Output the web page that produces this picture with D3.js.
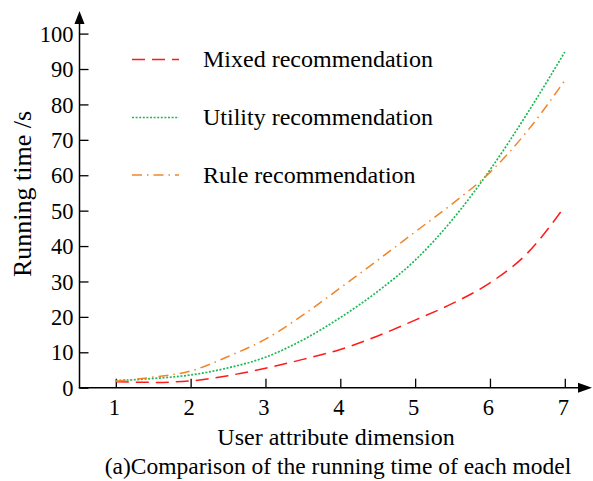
<!DOCTYPE html>
<html><head><meta charset="utf-8">
<script src="https://cdn.jsdelivr.net/npm/d3@7"></script>
<style>body{margin:0;background:#fff}svg{display:block}text{font-family:"Liberation Serif","Times New Roman",serif;fill:#000}</style>
</head><body>
<script>
const xValues = [1,1.5,2,2.5,3,3.5,4,4.5,5,5.5,6,6.5,7];
const mixed   = [1.7,1.5,1.9,3.4,5.5,8.0,10.8,14.6,19.1,23.8,29.6,38.0,51.2];
const utility = [2.0,2.6,3.6,5.6,8.6,13.5,19.8,27.2,36.0,47.5,61.5,77.5,94.8];
const rule    = [1.8,3.0,4.7,8.8,13.7,20.5,28.2,36.0,44.0,52.0,60.8,72.5,86.8];
const xTicks = [1,2,3,4,5,6,7];
const yTicks = [0,10,20,30,40,50,60,70,80,90,100];
const seriesNames = ["Mixed recommendation","Utility recommendation","Rule recommendation"];

const W=593,H=481;
const svg=d3.select("body").append("svg").attr("width",W).attr("height",H);
const x=d3.scaleLinear().domain([1,7]).range([115.8,564.8]);
const y=d3.scaleLinear().domain([0,100]).range([387.7,33.6]);
const axisX0=79.5;

// y axis
const ya=svg.append("g").attr("transform",`translate(${axisX0},0)`)
  .call(d3.axisRight(y).tickValues(yTicks).tickSize(9).tickFormat(d=>d));
ya.select(".domain").remove();
ya.selectAll("line").attr("stroke","#000").attr("stroke-width",1.3);
ya.selectAll("text").attr("x",-6).attr("text-anchor","end").attr("font-size",22.5)
  .attr("font-family","Liberation Serif").attr("dy","0.34em");
svg.append("line").attr("x1",axisX0).attr("x2",axisX0).attr("y1",y(0)+0.5).attr("y2",22).attr("stroke","#000").attr("stroke-width",1.5);
svg.append("path").attr("d",`M${axisX0},11 L${axisX0-5},24 L${axisX0+5},24 Z`).attr("fill","#000");

// x axis
const xa=svg.append("g").attr("transform",`translate(0,${y(0)})`)
  .call(d3.axisTop(x).tickValues(xTicks).tickSize(9).tickFormat(d=>d));
xa.select(".domain").remove();
xa.selectAll("line").attr("stroke","#000").attr("stroke-width",1.3);
xa.selectAll("text").attr("y",27).attr("dy","0").attr("font-size",22.5)
  .attr("font-family","Liberation Serif").attr("text-anchor","middle")
  .attr("transform","translate(-2,0)");
svg.append("line").attr("x1",axisX0-0.75).attr("x2",580).attr("y1",y(0)).attr("y2",y(0)).attr("stroke","#000").attr("stroke-width",1.5);
svg.append("path").attr("d",`M592,${y(0)} L578,${y(0)-5} L578,${y(0)+5} Z`).attr("fill","#000");

// titles
svg.append("text").attr("x",336).attr("y",445).attr("text-anchor","middle").attr("font-size",24).text("User attribute dimension");
svg.append("text").attr("x",338).attr("y",474).attr("text-anchor","middle").attr("font-size",23.5).text("(a)Comparison of the running time of each model");
svg.append("text").attr("transform","translate(31,194) rotate(-90)").attr("text-anchor","middle").attr("font-size",26).text("Running time /s");

const styles=[
  {data:mixed,color:"#ff1a1a",dash:"13,7",w:1.5},
  {data:utility,color:"#1db954",dash:"2,1.6",w:1.7},
  {data:rule,color:"#f0862a",dash:"10,5,1.5,5",w:1.5}
];
const line=d3.line().x((d,i)=>x(xValues[i])).y(d=>y(d)).curve(d3.curveMonotoneX);
styles.forEach(s=>{
  svg.append("path").attr("d",line(s.data)).attr("fill","none").attr("stroke",s.color)
    .attr("stroke-width",s.w).attr("stroke-dasharray",s.dash);
});

// legend
const legY=[59.5,117.5,175];
seriesNames.forEach((n,i)=>{
  const s=styles[i];
  svg.append("line").attr("x1",132).attr("x2",179).attr("y1",legY[i]).attr("y2",legY[i])
    .attr("stroke",s.color).attr("stroke-width",s.w).attr("stroke-dasharray",s.dash);
  svg.append("text").attr("x",203).attr("y",legY[i]+7.5).attr("font-size",24).text(n);
});
</script>
</body></html>
